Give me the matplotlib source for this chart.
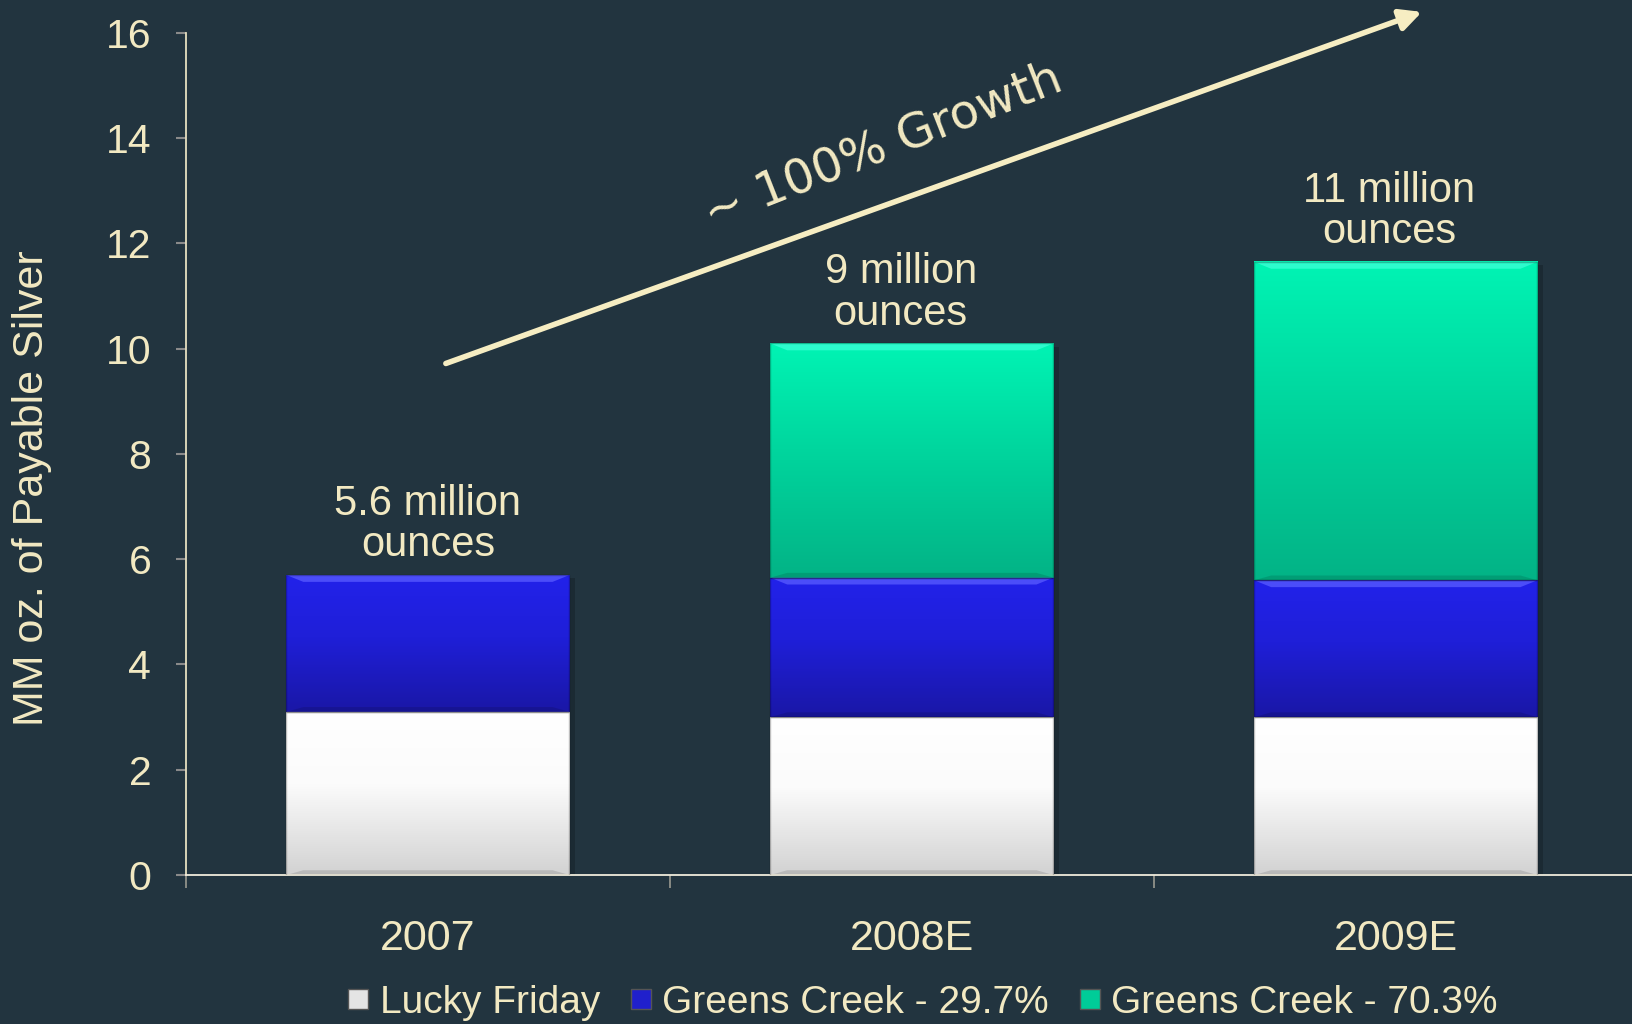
import numpy as np
import matplotlib.pyplot as plt
from matplotlib.colors import LinearSegmentedColormap
from matplotlib.lines import Line2D
from matplotlib.patches import Polygon, Rectangle

years = ['2007', '2008E', '2009E']
lucky_friday = [3.1, 3.0, 3.0]
greens_297 = [2.6, 2.65, 2.6]
greens_703 = [0.0, 4.45, 6.05]
total_labels = ['5.6 million\nounces', '9 million\nounces', '11 million\nounces']
series_names = ['Lucky Friday', 'Greens Creek - 29.7%', 'Greens Creek - 70.3%']

bg = '#22343f'
cream = '#f2e9c2'

# top colour, middle colour, bottom colour, bevel highlight
shades = [
    ('#ffffff', '#fbfbfb', '#d2d2d2', '#ffffff'),
    ('#2222ea', '#1f1fd8', '#1a17a6', '#5a5cff'),
    ('#00f4b4', '#00d69e', '#03b386', '#3dffd6'),
]

fig = plt.figure(figsize=(16.33, 10.24), dpi=100, facecolor=bg)
ax = fig.add_axes([0.1139, 0.1455, 0.889, 0.8223], facecolor=bg)

x = np.arange(len(years))
width = 0.585
grad = np.linspace(0, 1, 256).reshape(-1, 1)


def draw_segment(xc, y0, h, cols):
    if h <= 0:
        return
    x0, x1 = xc - width / 2, xc + width / 2
    cmap = LinearSegmentedColormap.from_list('seg', [(0, cols[2]), (0.55, cols[1]), (1, cols[0])])
    # soft shadow on the right
    ax.add_patch(Rectangle((x0 + 0.012, y0 - 0.06), width, h, color='#10191f', alpha=0.35, zorder=1.5, lw=0))
    ax.imshow(grad, extent=(x0, x1, y0, y0 + h), origin='lower', aspect='auto', cmap=cmap, zorder=2)
    # bevel on top edge and darker bottom edge
    bev = 0.13
    dx = 0.035
    top = y0 + h
    ax.add_patch(Polygon([(x0, top), (x1, top), (x1 - dx, top - bev), (x0 + dx, top - bev)],
                         closed=True, color=cols[3], alpha=0.75, lw=0, zorder=2.5))
    ax.add_patch(Polygon([(x0, y0), (x1, y0), (x1 - dx, y0 + bev * 0.7), (x0 + dx, y0 + bev * 0.7)],
                         closed=True, color='black', alpha=0.12, lw=0, zorder=2.5))
    ax.add_patch(Rectangle((x0, y0), width, h, fill=False, ec='black', alpha=0.25, lw=1, zorder=2.6))


label_nudge = [0, -8, -5]  # points, horizontal
for i in range(len(years)):
    base = 0.0
    for vals, cols in zip([lucky_friday, greens_297, greens_703], shades):
        draw_segment(x[i], base, vals[i], cols)
        base += vals[i]
    ax.annotate(total_labels[i], (x[i], base), xytext=(label_nudge[i], 7), textcoords='offset points',
                ha='center', va='bottom', fontsize=30, color=cream, linespacing=1.05,
                family='Liberation Sans')

# growth arrow and its caption
ax.annotate('', xy=(2.054, 16.4), xytext=(0.037, 9.72),
            arrowprops=dict(arrowstyle='-|>', lw=4, color='#f6edc2', mutation_scale=32,
                            shrinkA=0, shrinkB=0),
            annotation_clip=False, zorder=5)
ax.text(0.94, 13.85, '~ 100% Growth', rotation=21.5, rotation_mode='anchor',
        ha='center', va='center', fontsize=34.5, color=cream, family='DejaVu Sans', zorder=5)

ax.set_xlim(-0.5, 2.5)
ax.set_ylim(0, 16)
ax.set_yticks(np.arange(0, 17, 2))
ax.set_xticks(x)
ax.set_xticklabels(years)
ax.set_xticks([-0.5, 0.5, 1.5, 2.5], minor=True)

for side in ['top', 'right']:
    ax.spines[side].set_visible(False)
ax.spines['left'].set_color('#e6dfc0')
ax.spines['bottom'].set_color('#f0ebdc')
ax.spines['left'].set_linewidth(1.3)
ax.spines['bottom'].set_linewidth(1.3)

ax.tick_params(axis='y', colors='#8a8a8a', length=7, width=1.5, pad=18, labelsize=29.5,
               labelcolor=cream)
ax.tick_params(axis='x', which='major', length=0, pad=32, labelsize=31, labelcolor=cream)
ax.tick_params(axis='x', which='minor', length=9, width=1.2, color='#9a9a90')
for lab in ax.get_xticklabels() + ax.get_yticklabels():
    lab.set_family('Liberation Sans')

fig.text(0.0196, 0.523, 'MM oz. of Payable Silver', rotation=90, ha='center', va='center',
         fontsize=31, color=cream, family='Liberation Sans')

handles = [Line2D([], [], ls='none', marker='s', markersize=15, markerfacecolor=c,
                  markeredgecolor='#555555', markeredgewidth=1)
           for c in ['#e4e4e4', '#2020cc', '#00cc98']]
fig.legend(handles, series_names, loc='center', bbox_to_anchor=(0.5634, 0.0205), ncol=3,
           frameon=False, handletextpad=0.15, columnspacing=0.65, handlelength=0.8,
           prop={'family': 'Liberation Sans', 'size': 28}, labelcolor=cream)

fig.savefig('out.png', dpi=100, facecolor=bg)
